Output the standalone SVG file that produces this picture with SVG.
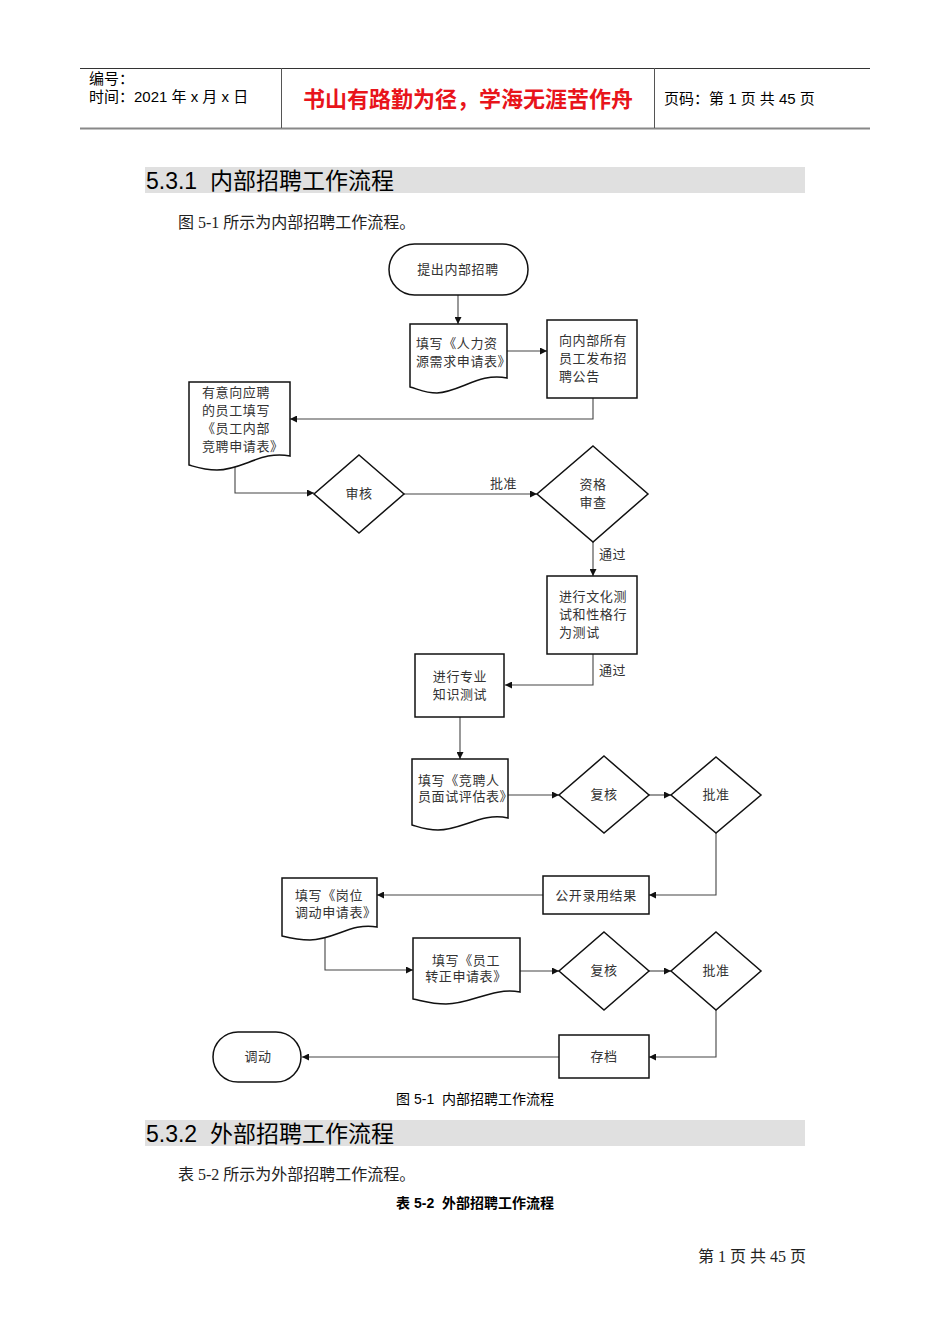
<svg xmlns="http://www.w3.org/2000/svg" width="950" height="1344" viewBox="0 0 950 1344">
<style>
.hd{font-family:"Liberation Sans","Noto Sans CJK SC",sans-serif;fill:#000}
.sec{font-family:"Liberation Sans","Noto Sans CJK SC",sans-serif;font-size:23px;fill:#000;white-space:pre}
.body{font-family:"Liberation Serif","Noto Sans CJK SC",serif;font-size:16px;fill:#222}
.cap{font-family:"Liberation Sans","Noto Sans CJK SC",sans-serif;font-size:14px;fill:#000;white-space:pre}
.t{font-family:"Liberation Serif","Noto Sans CJK SC",serif;font-size:13px;letter-spacing:0.6px;fill:#333}
.tc{text-anchor:middle}
.shape{fill:#fff;stroke:#111;stroke-width:1.5}
.conn{fill:none;stroke:#444;stroke-width:1.1}
</style>
<defs>
<marker id="ah" viewBox="0 0 10 10" refX="10" refY="5" markerWidth="9" markerHeight="7" markerUnits="userSpaceOnUse" orient="auto">
<path d="M0,0 L10,5 L0,10 Z" fill="#111"/>
</marker>
</defs>
<rect width="950" height="1344" fill="#fff"/>
<g id="header">
<line x1="80" y1="68.5" x2="870" y2="68.5" stroke="#333" stroke-width="1"/>
<line x1="80" y1="128.5" x2="870" y2="128.5" stroke="#888" stroke-width="2"/>
<line x1="281.5" y1="68" x2="281.5" y2="128" stroke="#555" stroke-width="1"/>
<line x1="654.5" y1="68" x2="654.5" y2="128" stroke="#555" stroke-width="1"/>
<text class="hd" x="89" y="84" font-size="15">编号：</text>
<text class="hd" x="89" y="102" font-size="15">时间：2021 年 x 月 x 日</text>
<text class="hd tc" x="468" y="107" font-size="22" font-weight="bold" style="fill:#e8141b">书山有路勤为径，学海无涯苦作舟</text>
<text class="hd" x="664" y="104" font-size="15">页码：第 1 页 共 45 页</text>
</g>
<g id="section1">
<rect x="145" y="167" width="660" height="26" fill="#e0e0e0"/>
<text class="sec" x="146" y="189" xml:space="preserve">5.3.1  内部招聘工作流程</text>
<text class="body" x="178" y="228">图 5-1 所示为内部招聘工作流程。</text>
</g>
<g id="connectors">
<path class="conn" d="M458,295 V324" marker-end="url(#ah)"/>
<path class="conn" d="M507,351 H547" marker-end="url(#ah)"/>
<path class="conn" d="M593,398 V419 H290" marker-end="url(#ah)"/>
<path class="conn" d="M235,466 V493 H314" marker-end="url(#ah)"/>
<path class="conn" d="M404,494 H537" marker-end="url(#ah)"/>
<text class="t" x="490" y="488">批准</text>
<path class="conn" d="M593,542 V576" marker-end="url(#ah)"/>
<text class="t" x="599" y="559">通过</text>
<path class="conn" d="M593,654 V685 H505" marker-end="url(#ah)"/>
<text class="t" x="599" y="675">通过</text>
<path class="conn" d="M460,717 V759" marker-end="url(#ah)"/>
<path class="conn" d="M508,795 H559" marker-end="url(#ah)"/>
<path class="conn" d="M649,795 H671" marker-end="url(#ah)"/>
<path class="conn" d="M716,833 V895 H649" marker-end="url(#ah)"/>
<path class="conn" d="M543,895 H377" marker-end="url(#ah)"/>
<path class="conn" d="M325,938 V970 H413" marker-end="url(#ah)"/>
<path class="conn" d="M520,971 H559" marker-end="url(#ah)"/>
<path class="conn" d="M649,971 H671" marker-end="url(#ah)"/>
<path class="conn" d="M716,1010 V1057 H649" marker-end="url(#ah)"/>
<path class="conn" d="M559,1057 H302" marker-end="url(#ah)"/>
</g>
<g id="n_start">
<rect class="shape" x="389" y="244" width="139" height="51" rx="25.5"/>
<text class="t tc" x="458" y="274">提出内部招聘</text>
</g>
<g id="n_hrform">
<path class="shape" d="M410,324 H507 V378 C480,372 460,392 437,393 C425,393 418,389 410,387 Z"/>
<text class="t" x="416" y="348">填写《人力资</text>
<text class="t" x="416" y="366">源需求申请表》</text>
</g>
<g id="n_notice">
<rect class="shape" x="547" y="320" width="90" height="78"/>
<text class="t" x="559" y="345">向内部所有</text>
<text class="t" x="559" y="363">员工发布招</text>
<text class="t" x="559" y="381">聘公告</text>
</g>
<g id="n_apply">
<path class="shape" d="M189,382 H290 V456 C262,450 243,470 217,470 C204,470 196,467 189,465 Z"/>
<text class="t" x="202" y="397">有意向应聘</text>
<text class="t" x="202" y="415">的员工填写</text>
<text class="t" x="202" y="433">《员工内部</text>
<text class="t" x="202" y="451">竞聘申请表》</text>
</g>
<g id="n_review1">
<path class="shape" d="M359,455 L404,494 L359,533 L314,494 Z"/>
<text class="t tc" x="359" y="498">审核</text>
</g>
<g id="n_qual">
<path class="shape" d="M593,446 L648,494 L593,542 L537,494 Z"/>
<text class="t tc" x="593" y="489">资格</text>
<text class="t tc" x="593" y="507">审查</text>
</g>
<g id="n_culture">
<rect class="shape" x="547" y="576" width="90" height="78"/>
<text class="t" x="559" y="601">进行文化测</text>
<text class="t" x="559" y="619">试和性格行</text>
<text class="t" x="559" y="637">为测试</text>
</g>
<g id="n_prof">
<rect class="shape" x="415" y="654" width="89" height="63"/>
<text class="t tc" x="460" y="681">进行专业</text>
<text class="t tc" x="460" y="699">知识测试</text>
</g>
<g id="n_eval">
<path class="shape" d="M412,759 H508 V818 C482,812 462,830 438,830 C426,830 419,827 412,825 Z"/>
<text class="t" x="418" y="785">填写《竞聘人</text>
<text class="t" x="418" y="801">员面试评估表》</text>
</g>
<g id="n_recheck1">
<path class="shape" d="M604,756 L649,795 L604,833 L559,795 Z"/>
<text class="t tc" x="604" y="799">复核</text>
</g>
<g id="n_approve1">
<path class="shape" d="M716,757 L761,795 L716,833 L671,795 Z"/>
<text class="t tc" x="716" y="799">批准</text>
</g>
<g id="n_publish">
<rect class="shape" x="543" y="876" width="106" height="38"/>
<text class="t tc" x="596" y="900">公开录用结果</text>
</g>
<g id="n_transfer">
<path class="shape" d="M282,878 H377 V927 C352,922 334,940 310,940 C298,940 290,938 282,936 Z"/>
<text class="t" x="295" y="900">填写《岗位</text>
<text class="t" x="295" y="917">调动申请表》</text>
</g>
<g id="n_regular">
<path class="shape" d="M413,938 H520 V992 C492,987 472,1004 446,1004 C432,1004 423,1001 413,999 Z"/>
<text class="t tc" x="466" y="965">填写《员工</text>
<text class="t tc" x="466" y="981">转正申请表》</text>
</g>
<g id="n_recheck2">
<path class="shape" d="M604,932 L649,971 L604,1010 L559,971 Z"/>
<text class="t tc" x="604" y="975">复核</text>
</g>
<g id="n_approve2">
<path class="shape" d="M716,932 L761,971 L716,1010 L671,971 Z"/>
<text class="t tc" x="716" y="975">批准</text>
</g>
<g id="n_archive">
<rect class="shape" x="559" y="1035" width="90" height="43"/>
<text class="t tc" x="604" y="1061">存档</text>
</g>
<g id="n_end">
<rect class="shape" x="213" y="1032" width="88" height="50" rx="25"/>
<text class="t tc" x="258" y="1061">调动</text>
</g>
<g id="section2">
<text class="cap tc" x="475" y="1104" xml:space="preserve">图 5-1  内部招聘工作流程</text>
<rect x="145" y="1120" width="660" height="26" fill="#e0e0e0"/>
<text class="sec" x="146" y="1142" xml:space="preserve">5.3.2  外部招聘工作流程</text>
<text class="body" x="178" y="1180">表 5-2 所示为外部招聘工作流程。</text>
<text class="cap tc" x="475" y="1208" font-weight="bold" xml:space="preserve">表 5-2  外部招聘工作流程</text>
<text class="body" x="806" y="1262" text-anchor="end" font-size="14">第 1 页 共 45 页</text>
</g>
</svg>
